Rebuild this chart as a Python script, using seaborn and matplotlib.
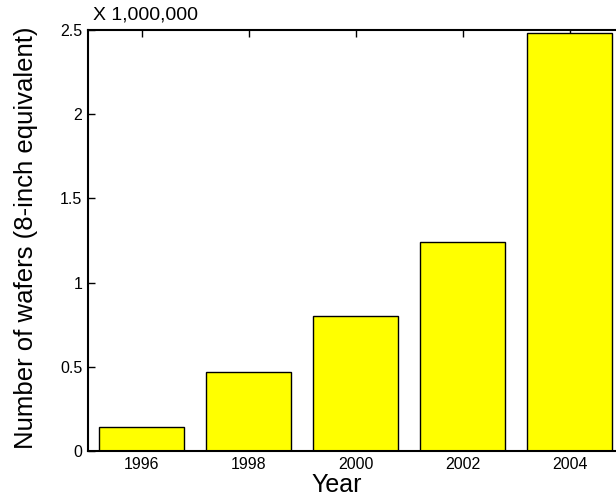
import matplotlib
matplotlib.use("Agg")
import matplotlib.pyplot as plt
import seaborn as sns
import pandas as pd

years = ["1996", "1998", "2000", "2002", "2004"]
wafers_millions = [0.14, 0.47, 0.80, 1.24, 2.48]
y_ticks = [0, 0.5, 1, 1.5, 2, 2.5]
y_tick_labels = ["0", "0.5", "1", "1.5", "2", "2.5"]

sns.set_style("white")
plt.rcParams["font.family"] = ["Liberation Sans", "DejaVu Sans"]
plt.rcParams["text.color"] = "black"
plt.rcParams["axes.labelcolor"] = "black"

df = pd.DataFrame({"Year": years, "Wafers": wafers_millions})

fig = plt.figure(figsize=(6.16, 4.97), dpi=100)
ax = fig.add_axes([88 / 616, 46 / 497, 535 / 616, 421 / 497])

sns.barplot(data=df, x="Year", y="Wafers", color="#ffff00", saturation=1,
            edgecolor="black", linewidth=1.0, width=0.8, ax=ax)

ax.set_xlim(-0.5, 4.5)
ax.set_ylim(0, 2.5)
ax.set_yticks(y_ticks)
ax.set_yticklabels(y_tick_labels)

for side in ["left", "bottom", "top"]:
    ax.spines[side].set_visible(True)
    ax.spines[side].set_color("black")
    ax.spines[side].set_linewidth(1.5)
ax.spines["right"].set_visible(False)

ax.tick_params(axis="both", direction="in", length=5, width=1, colors="black",
               labelsize=11.5, top=True, left=True, bottom=True)
ax.tick_params(axis="y", pad=4)
ax.tick_params(axis="x", pad=4.5)

ax.set_xlabel("Year", fontsize=18)
ax.xaxis.label.set_verticalalignment("baseline")
ax.xaxis.set_label_coords(0.465, -0.0962)
ax.set_ylabel("Number of wafers (8-inch equivalent)", fontsize=18.5)
ax.yaxis.set_label_coords(-0.0935, 0.507)

ax.text(5 / 535, 1.015, "X 1,000,000", transform=ax.transAxes, fontsize=14,
        ha="left", va="bottom")

fig.savefig("out.png", dpi=100)
